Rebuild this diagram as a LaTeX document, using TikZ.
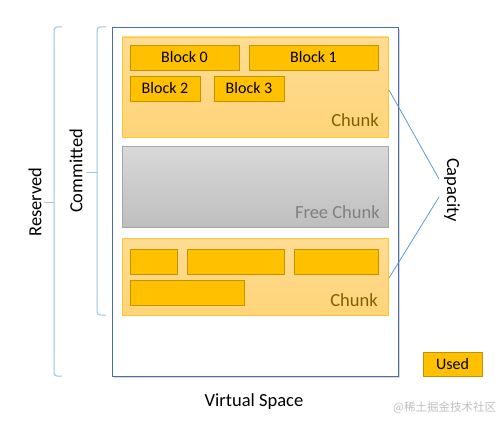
\documentclass[tikz,border=0pt]{standalone}
\usepackage{fontspec}
\setmainfont{Carlito}
\newfontfamily\cjkfont{Noto Sans CJK SC}
\usetikzlibrary{shadows}
\definecolor{chunkfillA}{HTML}{FFDC94}
\definecolor{chunkfillB}{HTML}{FFD479}
\definecolor{chunkedge}{HTML}{FFC72C}
\definecolor{blockfill}{HTML}{FFC000}
\definecolor{blockedge}{HTML}{C49300}
\definecolor{chunktext}{HTML}{7F6000}
\definecolor{freeA}{HTML}{D9D9D9}
\definecolor{freeB}{HTML}{BEBEBE}
\definecolor{freeedge}{HTML}{A6A6A6}
\definecolor{freetext}{HTML}{808080}
\definecolor{vsedge}{HTML}{4A6CB0}
\definecolor{bracecol}{HTML}{9DC3E6}
\definecolor{capline}{HTML}{5B9BD5}
\begin{document}
\begin{tikzpicture}[x=1pt,y=-1pt,
  box/.style={anchor=north west, inner sep=0pt, outer sep=0pt},
  chunkbox/.style={box, top color=chunkfillA, bottom color=chunkfillB, draw=chunkedge, line width=0.8pt},
  freebox/.style={box, top color=freeA, bottom color=freeB, draw=freeedge, line width=0.8pt},
  blk/.style={box, fill=blockfill, draw=blockedge, line width=0.7pt, minimum height=25pt, font=\fontsize{16}{18}\selectfont, text=black},
  lbl/.style={font=\fontsize{18.5}{21}\selectfont, inner sep=0pt},
  bracestyle/.style={draw=bracecol, line width=1pt, rounded corners=3pt},
  capstyle/.style={draw=capline, line width=0.8pt}
]
\useasboundingbox (0,0) rectangle (500,425);
% virtual space
\node[box, draw=vsedge, line width=0.8pt, fill=white, minimum width=286pt, minimum height=349pt,
      drop shadow={shadow xshift=1.8pt, shadow yshift=-1.8pt, opacity=0.3}] (vs) at (112,27) {};
% top chunk
\node[chunkbox, minimum width=266pt, minimum height=100pt] (c1) at (122,37) {};
\node[blk, minimum width=109pt] (b0) at (130,45) {Block 0};
\node[blk, minimum width=129pt] (b1) at (249,45) {Block 1};
\node[blk, minimum width=70pt] (b2) at (130,76) {Block 2};
\node[blk, minimum width=70pt] (b3) at (214,76) {Block 3};
\node[lbl, anchor=base east, text=chunktext] (c1l) at (379,127) {Chunk};
% free chunk
\node[freebox, minimum width=266pt, minimum height=81pt] (fc) at (122,146) {};
\node[lbl, anchor=base east, text=freetext] (fcl) at (380,218) {Free Chunk};
% bottom chunk
\node[chunkbox, minimum width=266pt, minimum height=77pt] (c2) at (122,238) {};
\node[blk, minimum width=47pt] (d0) at (130,249) {};
\node[blk, minimum width=97pt] (d1) at (187,249) {};
\node[blk, minimum width=84pt] (d2) at (294,249) {};
\node[blk, minimum width=114pt] (d3) at (130,280) {};
\node[lbl, anchor=base east, text=chunktext] (c2l) at (378,306) {Chunk};
% braces
\draw[bracestyle] (62,27) -- (54,27) -- (54,376) -- (62,376);
\draw[bracecol, line width=1pt] (54,202) -- (44,202);
\draw[bracestyle] (106,27) -- (97,27) -- (97,315) -- (106,315);
\draw[bracecol, line width=1pt] (97,172) -- (86,172);
\node[lbl, rotate=90] (res) at (35,202) {Reserved};
\node[lbl, rotate=90] (com) at (76,171) {Committed};
% capacity
\node[lbl, rotate=-90] (cap) at (452,190) {Capacity};
\coordinate (p1) at (389,90);
\coordinate (q1) at (439,179);
\coordinate (p2) at (389,278);
\coordinate (q2) at (439,197);
\draw[capstyle] (p1) -- (q1);
\draw[capstyle] (p2) -- (q2);
% legend
\node[blk, minimum width=59pt, minimum height=24pt] (used) at (423,352) {Used};
\node[lbl, anchor=base] (vsl) at (254,406) {Virtual Space};
\node[anchor=base west, inner sep=0pt, text=black!25, font=\cjkfont\fontsize{11.5}{13}\selectfont] (wm) at (393,411) {@稀土掘金技术社区};
\end{tikzpicture}
\end{document}
